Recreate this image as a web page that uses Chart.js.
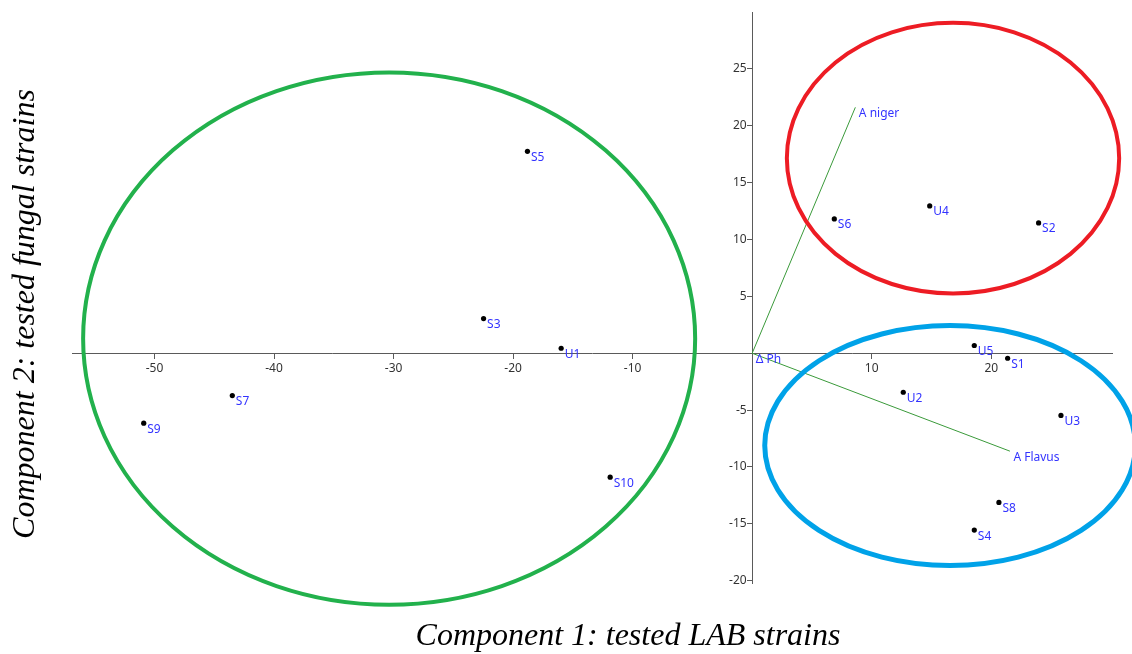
<!DOCTYPE html>
<html><head><meta charset="utf-8">
<script src="https://cdn.jsdelivr.net/npm/chart.js@4/dist/chart.umd.min.js"></script>
<style>html,body{margin:0;padding:0;background:#fff;}#wrap{width:1132px;height:654px;}</style>
</head><body><div id="wrap"><canvas id="c" width="1132" height="654"></canvas></div>
<script>
// LAB strain scores (Component 1, Component 2)
const strainNames = ['S1','S2','S3','S4','S5','S6','S7','S8','S9','S10','U1','U2','U3','U4','U5'];
const strainX = [21.37, 23.96, -22.47, 18.58, -18.8, 6.87, -43.49, 20.64, -50.9, -11.88, -15.98, 12.64, 25.83, 14.85, 18.58];
const strainY = [-0.44, 11.46, 3.05, -15.55, 17.75, 11.81, -3.72, -13.12, -6.15, -10.9, 0.44, -3.43, -5.47, 12.95, 0.68];
// fungal strain loadings (vectors from origin)
const loadingNames = ['A niger', 'A Flavus', 'Δ Ph'];
const loadingX = [8.63, 21.56, 0];
const loadingY = [21.62, -8.61, 0];
// group ellipses (centre and semi-axes in data units)
const groupCx = [-30.37, 16.8, 16.55];
const groupCy = [1.29, 17.15, -8.12];
const groupRx = [25.6, 13.9, 15.5];
const groupRy = [23.4, 11.9, 10.55];
const groupColors = ['#22b14c', '#ed1c24', '#00a2e8'];
const groupWidths = [4, 4, 5];
// tick labels
const xTicks = [-50, -40, -30, -20, -10, 10, 20];
const yTicks = [-20, -15, -10, -5, 5, 10, 15, 20, 25];
const xTitle = 'Component 1: tested LAB strains';
const yTitle = 'Component 2: tested fungal strains';

const LABEL_COLOR = '#3333ff';
const VECTOR_COLOR = '#3a9a3a';
const AXIS_COLOR = '#5a5a5a';
const TICK_FONT = '12px "Noto Sans"';

const datasets = [];
loadingNames.forEach((n, i) => {
  datasets.push({
    type: 'line', label: n + ' vector',
    data: [{x: 0, y: 0}, {x: loadingX[i], y: loadingY[i]}],
    borderColor: VECTOR_COLOR, borderWidth: 1, pointRadius: 0, fill: false, tension: 0
  });
});
datasets.push({
  type: 'scatter', label: 'loadings',
  data: loadingNames.map((n, i) => ({x: loadingX[i], y: loadingY[i]})),
  pointRadius: 0, pointLabels: loadingNames
});
datasets.push({
  type: 'scatter', label: 'strains',
  data: strainNames.map((n, i) => ({x: strainX[i], y: strainY[i]})),
  pointRadius: 2.6, pointBackgroundColor: '#000', pointBorderWidth: 0, pointLabels: strainNames
});

const overlay = {
  id: 'overlay',
  afterDatasetsDraw(chart) {
    const {ctx, scales: {x, y}} = chart;
    ctx.save();
    for (let i = 0; i < groupCx.length; i++) {
      const cx = x.getPixelForValue(groupCx[i]);
      const cy = y.getPixelForValue(groupCy[i]);
      const rx = Math.abs(x.getPixelForValue(groupCx[i] + groupRx[i]) - cx);
      const ry = Math.abs(y.getPixelForValue(groupCy[i] + groupRy[i]) - cy);
      ctx.beginPath();
      ctx.ellipse(cx, cy, rx, ry, 0, 0, Math.PI * 2);
      ctx.strokeStyle = groupColors[i];
      ctx.lineWidth = groupWidths[i];
      ctx.stroke();
    }
    ctx.font = '12px "Noto Sans"';
    ctx.fillStyle = LABEL_COLOR;
    ctx.textAlign = 'left';
    ctx.textBaseline = 'middle';
    chart.data.datasets.forEach((ds, di) => {
      if (!ds.pointLabels) return;
      chart.getDatasetMeta(di).data.forEach((el, j) => {
        const t = ds.pointLabels[j];
        if (t) ctx.fillText(t, el.x + 3.5, el.y + 6);
      });
    });
    ctx.restore();
  },
  afterDraw(chart) {
    const {ctx, scales: {x, y}} = chart;
    ctx.save();
    // y tick labels, left of the centred axis tick marks
    const ax = x.getPixelForValue(0);
    ctx.font = TICK_FONT;
    ctx.fillStyle = '#333';
    ctx.textAlign = 'right';
    ctx.textBaseline = 'middle';
    y.ticks.forEach(t => ctx.fillText(String(t.value), ax - 5.5, y.getPixelForValue(t.value)));
    // axis titles
    ctx.font = 'italic 32px "Liberation Serif"';
    ctx.fillStyle = '#000';
    ctx.textAlign = 'center';
    ctx.fillText(xTitle, 628, 637);
    ctx.translate(26, 314);
    ctx.rotate(-Math.PI / 2);
    ctx.fillText(yTitle, 0, 0);
    ctx.restore();
  }
};

new Chart(document.getElementById('c'), {
  data: {datasets},
  options: {
    responsive: false, animation: false, devicePixelRatio: 1,
    layout: {padding: {left: 72, right: 20, top: 12, bottom: 71}},
    plugins: {legend: {display: false}, tooltip: {enabled: false}, title: {display: false}},
    scales: {
      x: {
        type: 'linear', min: -56.9, max: 30.1, position: {y: 0},
        afterBuildTicks: s => { s.ticks = xTicks.map(v => ({value: v})); },
        afterFit: s => { s.height = 0; },
        grid: {drawOnChartArea: false, drawTicks: true, tickLength: 5, color: AXIS_COLOR},
        border: {display: true, color: AXIS_COLOR, width: 1},
        ticks: {color: '#333', font: {family: 'Noto Sans', size: 12}, padding: 3, maxRotation: 0}
      },
      y: {
        type: 'linear', min: -20.2, max: 30, position: {x: 0},
        afterBuildTicks: s => { s.ticks = yTicks.map(v => ({value: v})); },
        afterFit: s => { s.width = 0; },
        grid: {drawOnChartArea: false, drawTicks: true, tickLength: 5, color: AXIS_COLOR},
        border: {display: true, color: AXIS_COLOR, width: 1},
        ticks: {display: false}
      }
    }
  },
  plugins: [overlay]
});
</script></body></html>
